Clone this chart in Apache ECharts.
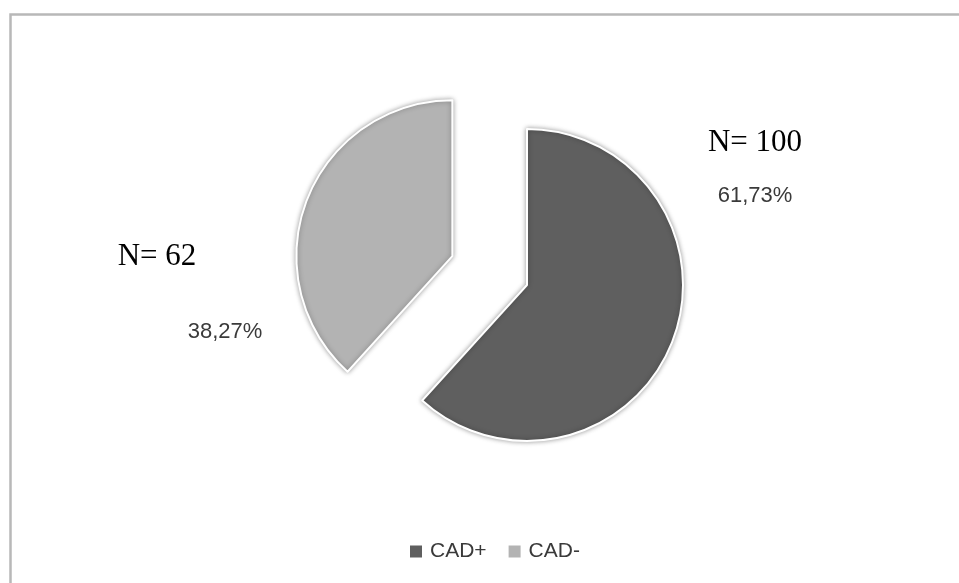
<!DOCTYPE html>
<html>
<head>
<meta charset="utf-8">
<title>CAD+ / CAD-</title>
<script src="https://cdn.jsdelivr.net/npm/echarts@6/dist/echarts.min.js"></script>
<style>
  html, body { margin: 0; padding: 0; background: #ffffff; }
  #chart { width: 959px; height: 583px; }
</style>
</head>
<body>
<div id="chart"></div>
<script>
// Group names and patient counts
const categories = ['CAD+', 'CAD-'];
const counts = [100, 62];

const total = counts.reduce((a, b) => a + b, 0);
const pctText = v => (v / total * 100).toFixed(2).replace('.', ',') + '%';

const chart = echarts.init(document.getElementById('chart'), null, { renderer: 'canvas' });

const serif = '31px "Liberation Serif", "Times New Roman", serif';
const sans = '22px "Liberation Sans", Arial, sans-serif';

chart.setOption({
  animation: false,
  backgroundColor: '#ffffff',
  color: ['#5f5f5f', '#b3b3b3'],
  legend: {
    left: 403,
    top: 536,
    icon: 'rect',
    itemWidth: 14,
    itemHeight: 14,
    itemGap: 20,
    selectedMode: false,
    textStyle: {
      fontFamily: '"Liberation Sans", Arial, sans-serif',
      fontSize: 21,
      color: '#3a3a3a',
      padding: [0, 0, 0, 2]
    },
    data: categories
  },
  graphic: [
    {
      type: 'rect',
      silent: true,
      shape: { x: 10.5, y: 14.5, width: 1200, height: 1000 },
      style: { fill: 'none', stroke: '#b8b8b8', lineWidth: 2.5 }
    },
    {
      type: 'text', silent: true,
      style: { text: 'N= ' + counts[0], x: 755, y: 143, font: serif, fill: '#000000', textAlign: 'center', textVerticalAlign: 'middle' }
    },
    {
      type: 'text', silent: true,
      style: { text: pctText(counts[0]), x: 755, y: 196, font: sans, fill: '#3a3a3a', textAlign: 'center', textVerticalAlign: 'middle' }
    },
    {
      type: 'text', silent: true,
      style: { text: 'N= ' + counts[1], x: 157, y: 257, font: serif, fill: '#000000', textAlign: 'center', textVerticalAlign: 'middle' }
    },
    {
      type: 'text', silent: true,
      style: { text: pctText(counts[1]), x: 225, y: 332, font: sans, fill: '#3a3a3a', textAlign: 'center', textVerticalAlign: 'middle' }
    }
  ],
  series: [
    {
      type: 'pie',
      center: [527, 285],
      radius: 156,
      startAngle: 90,
      clockwise: true,
      selectedMode: 'single',
      selectedOffset: 80,
      silent: true,
      label: { show: false },
      labelLine: { show: false },
      itemStyle: {
        borderColor: '#ffffff',
        borderWidth: 2,
        shadowBlur: 5,
        shadowColor: 'rgba(0,0,0,0.35)'
      },
      emphasis: { disabled: true },
      data: categories.map((name, i) => ({ name: name, value: counts[i], selected: i === 1 }))
    }
  ]
});
</script>
</body>
</html>
